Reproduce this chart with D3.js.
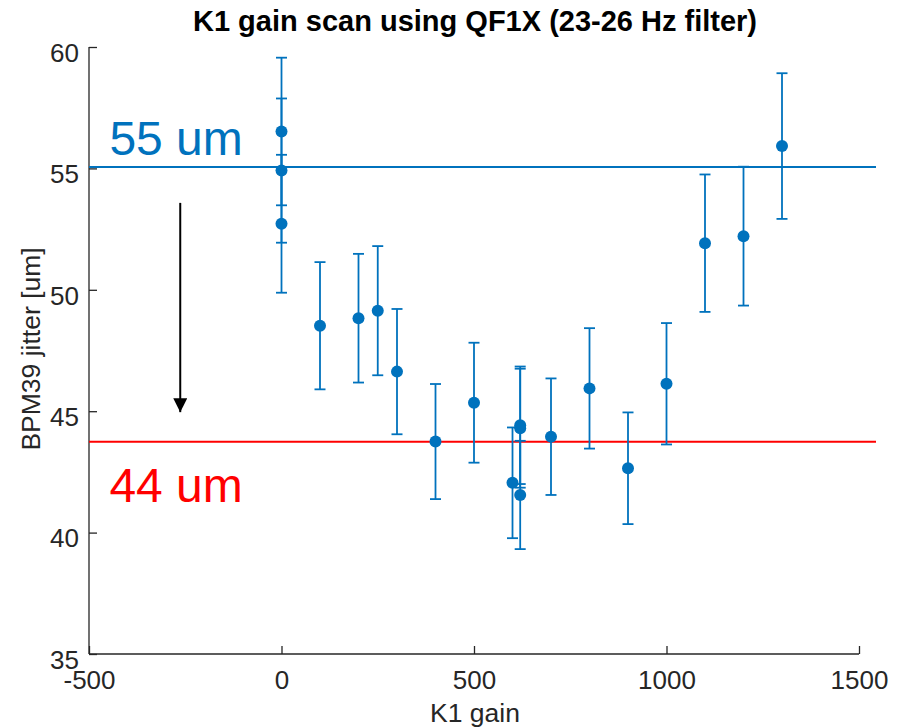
<!DOCTYPE html>
<html>
<head>
<meta charset="utf-8">
<script src="https://cdn.jsdelivr.net/npm/d3@7"></script>
<style>
  body { margin: 0; background: #fff; }
  text { font-family: "Liberation Sans", Arial, Helvetica, sans-serif; }
</style>
</head>
<body>
<svg id="chart" width="905" height="728"></svg>
<script>
// K1 gain settings scanned
const gains = [0, 0, 0, 100, 200, 250, 300, 400, 500, 600, 620, 620, 620, 700, 800, 900, 1000, 1100, 1200, 1300];
// Measured BPM39 jitter [um]
const jitter = [56.52, 54.91, 52.72, 48.52, 48.83, 49.14, 46.63, 43.75, 45.35, 42.05, 44.42, 44.30, 41.55, 43.95, 45.94, 42.65, 46.13, 51.92, 52.21, 55.92];
// One-sigma uncertainty on each jitter value [um]
const jitterErr = [3.04, 2.97, 2.84, 2.62, 2.65, 2.66, 2.58, 2.37, 2.47, 2.28, 2.42, 2.45, 2.23, 2.40, 2.48, 2.30, 2.50, 2.83, 2.86, 3.00];

const xTicks = [-500, 0, 500, 1000, 1500];
const yTicks = [35, 40, 45, 50, 55, 60];

// Reference levels: before and after feedback
const refLevels = [55.06, 43.74];
const refLabels = ["55 um", "44 um"];
const refColors = ["#0072BD", "#FF0000"];

// Arrow from the old level down to the new one (gain, jitter)
const arrowFrom = [-263, 53.58];
const arrowTo = [-263, 44.96];

const svg = d3.select("#chart");
const padL = 89, padR = 859, padT = 47, padB = 654;

const x = d3.scaleLinear().domain([-500, 1500]).range([padL, padR]);
const y = d3.scaleLinear().domain([35, 60]).range([padB, padT]);

const axisColor = "#262626";
const dataColor = "#0072BD";
const tickFont = 26;

// Title
svg.append("text")
  .attr("x", 475).attr("y", 31)
  .attr("text-anchor", "middle")
  .attr("font-size", 29).attr("font-weight", "bold")
  .attr("fill", "#000")
  .text("K1 gain scan using QF1X (23-26 Hz filter)");

// Axes
const xAxis = d3.axisBottom(x).tickValues(xTicks).tickSize(-8).tickFormat(d => String(d));
const yAxis = d3.axisLeft(y).tickValues(yTicks).tickSize(-8).tickPadding(10).tickFormat(d => String(d));

const gx = svg.append("g").attr("transform", `translate(0,${padB})`).call(xAxis);
const gy = svg.append("g").attr("transform", `translate(${padL},0)`).call(yAxis);

[gx, gy].forEach(g => {
  g.select(".domain").attr("stroke", axisColor).attr("stroke-width", 1.3);
  g.selectAll(".tick line").attr("stroke", axisColor).attr("stroke-width", 1.3);
  g.selectAll(".tick text").attr("fill", axisColor).attr("font-size", tickFont)
    .attr("font-family", "'Liberation Sans', Arial, sans-serif");
});
gx.select(".domain").attr("d", `M${padL},0H${padR}`);
gy.select(".domain").attr("d", `M0,${padT}V${padB}`);
gx.selectAll(".tick text").attr("dy", 0).attr("y", 35);
gy.selectAll(".tick text").attr("dy", "0.55em");

// Axis labels
svg.append("text")
  .attr("x", 475).attr("y", 722)
  .attr("text-anchor", "middle")
  .attr("font-size", 26.5).attr("fill", axisColor)
  .text("K1 gain");

svg.append("text")
  .attr("transform", `translate(40,349) rotate(-90)`)
  .attr("text-anchor", "middle")
  .attr("font-size", 26.5).attr("fill", axisColor)
  .text("BPM39 jitter [um]");

// Reference lines and labels
const refG = svg.append("g");
refLevels.forEach((lv, i) => {
  refG.append("line")
    .attr("x1", padL).attr("x2", 876)
    .attr("y1", y(lv)).attr("y2", y(lv))
    .attr("stroke", refColors[i]).attr("stroke-width", 2);
});
svg.append("text")
  .attr("x", x(-447)).attr("y", y(55.55))
  .attr("font-size", 48).attr("fill", refColors[0])
  .text(refLabels[0]);
svg.append("text")
  .attr("x", x(-447)).attr("y", y(41.25))
  .attr("font-size", 48).attr("fill", refColors[1])
  .text(refLabels[1]);

// Arrow
svg.append("defs").append("marker")
  .attr("id", "head")
  .attr("viewBox", "0 0 10 10")
  .attr("refX", 10).attr("refY", 5)
  .attr("markerWidth", 7).attr("markerHeight", 7)
  .attr("markerUnits", "strokeWidth")
  .attr("orient", "auto")
  .append("path").attr("d", "M0,0L10,5L0,10z").attr("fill", "#000");

svg.append("line")
  .attr("x1", x(arrowFrom[0])).attr("y1", y(arrowFrom[1]))
  .attr("x2", x(arrowTo[0])).attr("y2", y(arrowTo[1]))
  .attr("stroke", "#000").attr("stroke-width", 2)
  .attr("marker-end", "url(#head)");

// Error bars and points
const rows = gains.map((g, i) => ({ g, v: jitter[i], e: jitterErr[i] }));
const eb = svg.append("g").attr("stroke", dataColor).attr("stroke-width", 1.8);
rows.forEach(r => {
  const cx = x(r.g);
  eb.append("line").attr("x1", cx).attr("x2", cx)
    .attr("y1", y(r.v - r.e)).attr("y2", y(r.v + r.e));
  [r.v - r.e, r.v + r.e].forEach(val => {
    eb.append("line").attr("x1", cx - 5.5).attr("x2", cx + 5.5)
      .attr("y1", y(val)).attr("y2", y(val));
  });
});
svg.append("g").selectAll("circle").data(rows).join("circle")
  .attr("cx", d => x(d.g)).attr("cy", d => y(d.v))
  .attr("r", 6).attr("fill", dataColor);
</script>
</body>
</html>
